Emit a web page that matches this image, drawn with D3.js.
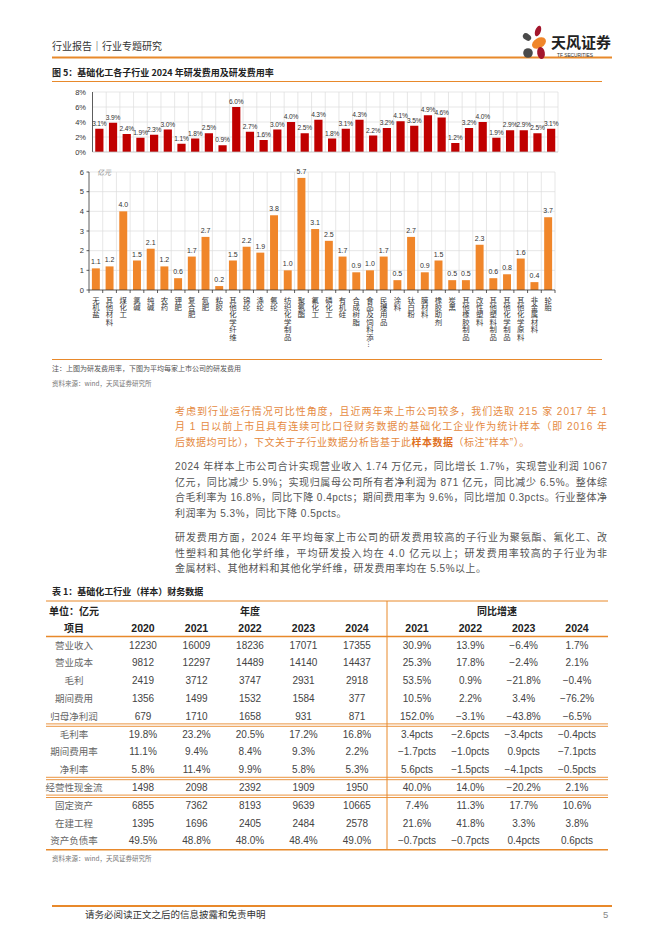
<!DOCTYPE html>
<html><head><meta charset="utf-8">
<script src="https://cdn.jsdelivr.net/npm/d3@7"></script>
<style>
body{margin:0;background:#fff;}
svg{display:block;font-family:"Liberation Sans","Noto Sans CJK SC",sans-serif;}
</style></head><body>
<svg id="page" width="662" height="936"></svg>
<script>
// ---------- DATA ----------
const categories = ["无机盐","其他材料","煤化工","氯碱","纯碱","农药","钾肥","复合肥","氮肥","粘胶","其他化学纤维","锦纶","涤纶","氨纶","纺织化学制品","聚氨酯","氟化工","磷化工","有机硅","合成树脂","食品及饲料添…","民爆用品","涂料","钛白粉","膜材料","橡胶助剂","炭黑","其他橡胶制品","改性塑料","其他塑料制品","其他化学制品","其他化学原料","非金属材料","轮胎"];
const rdRate = [3.1,3.9,2.4,1.9,2.3,3.0,1.1,1.8,2.5,0.9,6.0,2.7,1.6,3.0,4.0,2.5,4.3,1.8,3.1,4.3,2.2,3.2,4.1,3.5,4.9,4.6,1.2,3.2,4.0,1.9,2.9,2.9,2.5,3.1];
const rdExpense = [1.1,1.2,4.0,1.5,2.1,1.2,0.6,1.7,2.7,0.2,1.5,2.2,1.9,3.8,1.0,5.7,3.1,2.5,1.7,0.9,1.0,1.7,0.5,2.7,0.9,1.5,0.5,0.5,2.3,0.6,0.8,1.6,0.4,3.7];
const rateTicks = [0,2,4,6,8];
const expenseTicks = [0,1,2,3,4,5,6];

const tableYears = ["2020","2021","2022","2023","2024"];
const growthYears = ["2021","2022","2023","2024"];
const rowNames = ["营业收入","营业成本","毛利","期间费用","归母净利润","毛利率","期间费用率","净利率","经营性现金流","固定资产","在建工程","资产负债率"];
const rowValues = [
 ["12230","16009","18236","17071","17355"],
 ["9812","12297","14489","14140","14437"],
 ["2419","3712","3747","2931","2918"],
 ["1356","1499","1532","1584","377"],
 ["679","1710","1658","931","871"],
 ["19.8%","23.2%","20.5%","17.2%","16.8%"],
 ["11.1%","9.4%","8.4%","9.3%","2.2%"],
 ["5.8%","11.4%","9.9%","5.8%","5.3%"],
 ["1498","2098","2392","1909","1950"],
 ["6855","7362","8193","9639","10665"],
 ["1395","1696","2405","2484","2578"],
 ["49.5%","48.8%","48.0%","48.4%","49.0%"]
];
const rowGrowth = [
 ["30.9%","13.9%","−6.4%","1.7%"],
 ["25.3%","17.8%","−2.4%","2.1%"],
 ["53.5%","0.9%","−21.8%","−0.4%"],
 ["10.5%","2.2%","3.4%","−76.2%"],
 ["152.0%","−3.1%","−43.8%","−6.5%"],
 ["3.4pcts","−2.6pcts","−3.4pcts","−0.4pcts"],
 ["−1.7pcts","−1.0pcts","0.9pcts","−7.1pcts"],
 ["5.6pcts","−1.5pcts","−4.1pcts","−0.5pcts"],
 ["40.0%","14.0%","−20.2%","2.1%"],
 ["7.4%","11.3%","17.7%","10.6%"],
 ["21.6%","41.8%","3.3%","3.8%"],
 ["−0.7pcts","−0.7pcts","0.4pcts","0.6pcts"]
];
const groupEnds = [4,7,8]; // double separators after these rows

const para1 = [
 [{t:"考虑到行业运行情况可比性角度，且近两年来上市公司较多，我们选取 215 家 2017 年 1"}],
 [{t:"月 1 日以前上市且具有连续可比口径财务数据的基础化工企业作为统计样本（即 2016 年"}],
 [{t:"后数据均可比），下文关于子行业数据分析皆基于此"},{t:"样本数据",b:true},{t:"（标注“样本”）。"}]
];
const para2 = [
 [{t:"2024 年样本上市公司合计实现营业收入 1.74 万亿元，同比增长 1.7%，实现营业利润 1067"}],
 [{t:"亿元，同比减少 5.9%；实现归属母公司所有者净利润为 871 亿元，同比减少 6.5%。整体综"}],
 [{t:"合毛利率为 16.8%，同比下降 0.4pcts；期间费用率为 9.6%，同比增加 0.3pcts。行业整体净"}],
 [{t:"利润率为 5.3%，同比下降 0.5pcts。"}]
];
const para3 = [
 [{t:"研发费用方面，2024 年平均每家上市公司的研发费用较高的子行业为聚氨酯、氟化工、改"}],
 [{t:"性塑料和其他化学纤维，平均研发投入均在 4.0 亿元以上；研发费用率较高的子行业为非"}],
 [{t:"金属材料、其他材料和其他化学纤维，研发费用率均在 5.5%以上。"}]
];

// ---------- DRAW ----------
const svg = d3.select("#page");
const ORANGE = "#E8892B";
const CJK = "'Noto Sans CJK SC',sans-serif";

function hline(x1,x2,y,w,c){svg.append("line").attr("x1",x1).attr("x2",x2).attr("y1",y).attr("y2",y).attr("stroke",c||ORANGE).attr("stroke-width",w||1);}

// header
svg.append("text").attr("x",52).attr("y",50).attr("font-family",CJK).attr("font-size",10).attr("fill","#333").text("行业报告｜行业专题研究");
hline(52,612,57.5,2);
// logo
const lg = svg.append("g");
lg.append("ellipse").attr("cx",538).attr("cy",31).attr("rx",2.8).attr("ry",5.5).attr("transform","rotate(20 538 31)").attr("fill","#A3162C");
lg.append("ellipse").attr("cx",527).attr("cy",37).attr("rx",4.5).attr("ry",3.2).attr("transform","rotate(35 527 37)").attr("fill","#4a4a4a");
lg.append("ellipse").attr("cx",539).attr("cy",43).attr("rx",7.5).attr("ry",5).attr("transform","rotate(-30 539 43)").attr("fill","#F0862A");
lg.append("circle").attr("cx",528).attr("cy",53).attr("r",4.8).attr("fill","#4a4a4a");
lg.append("ellipse").attr("cx",541).attr("cy",53).attr("rx",3.8).attr("ry",6).attr("transform","rotate(-10 541 53)").attr("fill","#A3162C");
svg.append("text").attr("x",551).attr("y",48).attr("font-family",CJK).attr("font-size",15).attr("font-weight","bold").attr("fill","#222").text("天风证券");
svg.append("text").attr("x",557).attr("y",56.5).attr("font-size",4.8).attr("fill","#333").text("TF SECURITIES");

// figure title
svg.append("text").attr("x",52).attr("y",76).attr("font-family",CJK).attr("font-size",9).attr("font-weight","bold").attr("fill","#222").text("图 5：基础化工各子行业 2024 年研发费用及研发费用率");
hline(52,602,81.5,1);

// ---- top chart ----
const xTop = d3.scaleBand().domain(categories).range([92.5,558]).paddingInner(0.4).paddingOuter(0.2);
const yTop = d3.scaleLinear().domain([0,8]).range([152,92]);
const gT = svg.append("g");
gT.selectAll("line.h").data(rateTicks.slice(1)).enter().append("line")
 .attr("x1",92.5).attr("x2",558).attr("y1",d=>yTop(d)).attr("y2",d=>yTop(d)).attr("stroke","#dcdcdc").attr("stroke-width",0.7);
gT.selectAll("line.v").data(d3.range(1,categories.length+1)).enter().append("line")
 .attr("x1",i=>xTop.range()[0]+i*xTop.step()).attr("x2",i=>xTop.range()[0]+i*xTop.step())
 .attr("y1",92).attr("y2",152).attr("stroke","#dcdcdc").attr("stroke-width",0.7);
gT.selectAll("rect").data(rdRate).enter().append("rect")
 .attr("x",(d,i)=>xTop(categories[i])).attr("width",xTop.bandwidth())
 .attr("y",d=>yTop(d)).attr("height",d=>yTop(0)-yTop(d)).attr("fill","#C00000");
gT.append("line").attr("x1",92.5).attr("x2",92.5).attr("y1",92).attr("y2",152).attr("stroke","#333").attr("stroke-width",0.8);
gT.append("line").attr("x1",92.5).attr("x2",558).attr("y1",152).attr("y2",152).attr("stroke","#bbb").attr("stroke-width",0.8);
gT.selectAll("text.t").data(rateTicks).enter().append("text")
 .attr("x",86).attr("y",d=>yTop(d)+2.5).attr("text-anchor","end").attr("font-size",7.5).attr("fill","#333").text(d=>d+"%");
gT.selectAll("text.v").data(rdRate).enter().append("text")
 .attr("x",(d,i)=>xTop(categories[i])+xTop.bandwidth()/2).attr("y",d=>yTop(d)-3)
 .attr("text-anchor","middle").attr("font-size",6.6).attr("letter-spacing",-0.15).attr("fill","#333").text(d=>d3.format(".1f")(d)+"%");

// ---- bottom chart ----
const xBot = d3.scaleBand().domain(categories).range([89,555]).paddingInner(0.42).paddingOuter(0.21);
const yBot = d3.scaleLinear().domain([0,6]).range([290,172]);
const gB = svg.append("g");
gB.selectAll("line.h").data(expenseTicks.slice(1)).enter().append("line")
 .attr("x1",89).attr("x2",555).attr("y1",d=>yBot(d)).attr("y2",d=>yBot(d)).attr("stroke","#dcdcdc").attr("stroke-width",0.7);
gB.selectAll("line.v").data(d3.range(1,categories.length+1)).enter().append("line")
 .attr("x1",i=>xBot.range()[0]+i*xBot.step()).attr("x2",i=>xBot.range()[0]+i*xBot.step())
 .attr("y1",172).attr("y2",290).attr("stroke","#dcdcdc").attr("stroke-width",0.7);
gB.selectAll("rect").data(rdExpense).enter().append("rect")
 .attr("x",(d,i)=>xBot(categories[i])).attr("width",xBot.bandwidth())
 .attr("y",d=>yBot(d)).attr("height",d=>yBot(0)-yBot(d)).attr("fill","#F0862A");
gB.append("line").attr("x1",89).attr("x2",89).attr("y1",172).attr("y2",290).attr("stroke","#333").attr("stroke-width",0.8);
gB.append("line").attr("x1",89).attr("x2",555).attr("y1",290).attr("y2",290).attr("stroke","#333").attr("stroke-width",0.8);
gB.selectAll("line.yt").data(expenseTicks).enter().append("line")
 .attr("x1",86.5).attr("x2",89).attr("y1",d=>yBot(d)).attr("y2",d=>yBot(d)).attr("stroke","#333").attr("stroke-width",0.8);
gB.selectAll("line.xt").data(d3.range(0,categories.length+1)).enter().append("line")
 .attr("x1",i=>xBot.range()[0]+i*xBot.step()).attr("x2",i=>xBot.range()[0]+i*xBot.step())
 .attr("y1",290).attr("y2",293).attr("stroke","#333").attr("stroke-width",0.8);
gB.selectAll("text.t").data(expenseTicks).enter().append("text")
 .attr("x",84).attr("y",d=>yBot(d)+2.5).attr("text-anchor","end").attr("font-size",7.5).attr("fill","#333").text(d=>d);
svg.append("text").attr("x",97).attr("y",175).attr("font-family",CJK).attr("font-size",7).attr("font-style","italic").attr("fill","#888").text("亿元");
gB.selectAll("text.v").data(rdExpense).enter().append("text")
 .attr("x",(d,i)=>xBot(categories[i])+xBot.bandwidth()/2).attr("y",d=>yBot(d)-4)
 .attr("text-anchor","middle").attr("font-size",7).attr("fill","#333").text(d=>d3.format(".1f")(d));
gB.selectAll("text.c").data(categories).enter().append("text")
 .attr("x",d=>xBot(d)+xBot.bandwidth()/2).attr("y",296)
 .attr("font-family",CJK).attr("font-size",7.4).attr("fill","#333")
 .style("writing-mode","vertical-rl").text(d=>d);

hline(52,602,359.5,1);
svg.append("text").attr("x",52).attr("y",370.5).attr("font-family",CJK).attr("font-size",7).attr("fill","#555").text("注：上图为研发费用率，下图为平均每家上市公司的研发费用");
svg.append("text").attr("x",52).attr("y",386).attr("font-family",CJK).attr("font-size",6.5).attr("fill","#777").text("资料来源：wind，天风证券研究所");

// ---- paragraphs ----
function para(lines,y0,color,boldColor){
  lines.forEach((segs,i)=>{
    const t = svg.append("text").attr("x",175).attr("y",y0+i*15.5).attr("font-size",10).attr("fill",color);
    if(i<lines.length-1){t.attr("textLength",432).attr("lengthAdjust","spacing");}
    else {t.attr("letter-spacing",0.5);}
    segs.forEach(s=>{
      const ts=t.append("tspan").text(s.t);
      if(s.b){ts.attr("font-weight","bold").attr("fill",boldColor);}
    });
  });
}
para(para1,414.5,"#E58A3F","#E0701E");
para(para2,470,"#555");
para(para3,541,"#555");

// ---- table ----
svg.append("text").attr("x",52).attr("y",595).attr("font-family",CJK).attr("font-size",9).attr("font-weight","bold").attr("fill","#222").text("表 1：基础化工行业（样本）财务数据");
const xYear = d3.scalePoint().domain(tableYears).range([143,357]);
const xGrowth = d3.scalePoint().domain(growthYears).range([417,577]);
const rowStep = 17.8, row0 = 645;
const yRow = i=>row0+i*rowStep;
const tb = svg.append("g");
hline(46,608,601,1);
tb.append("text").attr("x",74).attr("y",614.5).attr("text-anchor","middle").attr("font-family",CJK).attr("font-size",10).attr("font-weight","bold").attr("fill","#222").text("单位：亿元");
tb.append("text").attr("x",250).attr("y",614.5).attr("text-anchor","middle").attr("font-family",CJK).attr("font-size",10).attr("font-weight","bold").attr("fill","#222").text("年度");
tb.append("text").attr("x",497).attr("y",614.5).attr("text-anchor","middle").attr("font-family",CJK).attr("font-size",10).attr("font-weight","bold").attr("fill","#222").text("同比增速");
tb.append("text").attr("x",74).attr("y",631.5).attr("text-anchor","middle").attr("font-family",CJK).attr("font-size",10).attr("font-weight","bold").attr("fill","#222").text("项目");
tableYears.forEach(y=>tb.append("text").attr("x",xYear(y)).attr("y",631.5).attr("text-anchor","middle").attr("font-size",10.5).attr("font-weight","bold").attr("fill","#222").text(y));
growthYears.forEach(y=>tb.append("text").attr("x",xGrowth(y)).attr("y",631.5).attr("text-anchor","middle").attr("font-size",10.5).attr("font-weight","bold").attr("fill","#222").text(y));
hline(46,608,636.5,1.5);
rowNames.forEach((n,i)=>{
  const yy = yRow(i)+3.5;
  tb.append("text").attr("x",74).attr("y",yy).attr("text-anchor","middle").attr("font-family",CJK).attr("font-size",9.5).attr("fill","#666").text(n);
  rowValues[i].forEach((v,j)=>tb.append("text").attr("x",xYear(tableYears[j])).attr("y",yy).attr("text-anchor","middle").attr("font-size",10).attr("fill","#444").text(v));
  rowGrowth[i].forEach((v,j)=>tb.append("text").attr("x",xGrowth(growthYears[j])).attr("y",yy).attr("text-anchor","middle").attr("font-size",10).attr("fill","#444").text(v));
});
groupEnds.forEach(g=>{
  const m = yRow(g)+rowStep/2;
  hline(46,608,m-1.2,0.9); hline(46,608,m+1.2,0.9);
});
const bottomY = yRow(rowNames.length-1)+9;
hline(46,608,bottomY,1.5);
tb.append("line").attr("x1",387).attr("x2",387).attr("y1",601).attr("y2",bottomY).attr("stroke",ORANGE).attr("stroke-width",1);
svg.append("text").attr("x",52).attr("y",bottomY+11).attr("font-family",CJK).attr("font-size",6.5).attr("fill","#777").text("资料来源：wind，天风证券研究所");

// footer
hline(52,612,906,2);
svg.append("text").attr("x",85).attr("y",918).attr("font-family",CJK).attr("font-size",9.5).attr("fill","#333").text("请务必阅读正文之后的信息披露和免责申明");
svg.append("text").attr("x",603).attr("y",918).attr("font-size",9.5).attr("fill","#888").text("5");
</script>
</body></html>
